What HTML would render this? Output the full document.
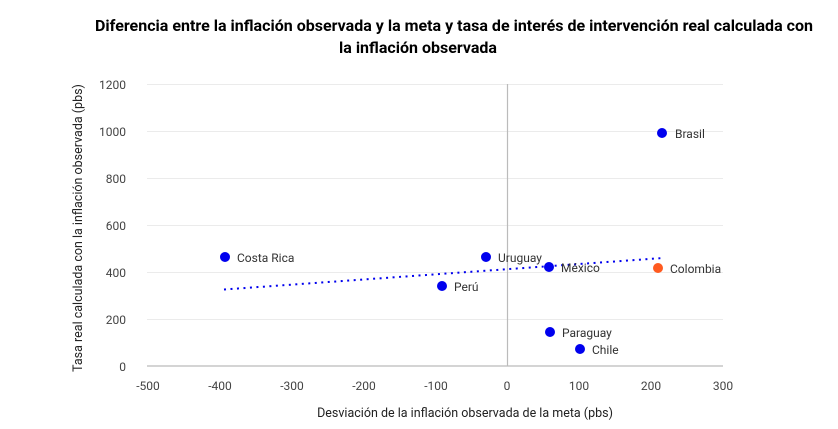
<!DOCTYPE html>
<html><head><meta charset="utf-8"><style>body{margin:0;background:#fff}</style></head><body>
<svg width="838" height="424" xmlns="http://www.w3.org/2000/svg" font-family="Roboto, 'Liberation Sans', sans-serif">
<rect width="838" height="424" fill="#fff"/>
<text x="454" y="31" text-anchor="middle" font-size="16" font-weight="bold" fill="#000" textLength="718" lengthAdjust="spacingAndGlyphs">Diferencia entre la inflación observada y la meta y tasa de interés de intervención real calculada con</text>
<text x="418" y="53" text-anchor="middle" font-size="16" font-weight="bold" fill="#000">la inflación observada</text>
<g stroke="#ebebeb" stroke-width="1">
<line x1="147" x2="723" y1="84.5" y2="84.5"/><line x1="147" x2="723" y1="131.5" y2="131.5"/>
<line x1="147" x2="723" y1="178.5" y2="178.5"/><line x1="147" x2="723" y1="225.5" y2="225.5"/>
<line x1="147" x2="723" y1="272.5" y2="272.5"/><line x1="147" x2="723" y1="319.5" y2="319.5"/>
</g>
<line x1="147" x2="723" y1="366" y2="366" stroke="#bbb" stroke-width="1.2"/>
<line x1="507.5" x2="507.5" y1="84" y2="366" stroke="#bbb" stroke-width="1.2"/>
<g font-size="12" fill="#444" text-anchor="end">
<text x="126" y="89">1200</text><text x="126" y="136">1000</text><text x="126" y="183">800</text>
<text x="126" y="230">600</text><text x="126" y="277">400</text><text x="126" y="324">200</text><text x="126" y="371">0</text>
</g>
<g font-size="12" fill="#444" text-anchor="middle">
<text x="148" y="390">-500</text><text x="220" y="390">-400</text><text x="292" y="390">-300</text>
<text x="364" y="390">-200</text><text x="436" y="390">-100</text><text x="507" y="390">0</text>
<text x="579" y="390">100</text><text x="651" y="390">200</text><text x="723" y="390">300</text>
</g>
<text x="465" y="417" text-anchor="middle" font-size="12.5" fill="#222">Desviación de la inflación observada de la meta (pbs)</text>
<text transform="translate(82,228) rotate(-90)" text-anchor="middle" font-size="12.5" fill="#222">Tasa real calculada con la inflación observada (pbs)</text>
<line x1="224" y1="289.5" x2="663" y2="258" stroke="#0000ee" stroke-width="2" stroke-dasharray="2,4.5"/>
<g fill="#0000ee">
<circle cx="225" cy="257" r="5"/><circle cx="486" cy="257" r="5"/><circle cx="549" cy="267" r="5"/>
<circle cx="442" cy="286" r="5"/><circle cx="662" cy="133" r="5"/><circle cx="550" cy="332" r="5"/><circle cx="580" cy="349" r="5"/>
</g>
<circle cx="658" cy="268" r="5" fill="#ff5a1f"/>
<g font-size="12" fill="#333">
<text x="237" y="262">Costa Rica</text><text x="498" y="262">Uruguay</text><text x="561" y="272">México</text>
<text x="454" y="291">Perú</text><text x="670" y="273">Colombia</text><text x="675" y="138">Brasil</text>
<text x="562" y="337">Paraguay</text><text x="592" y="354">Chile</text>
</g>
</svg>
</body></html>
